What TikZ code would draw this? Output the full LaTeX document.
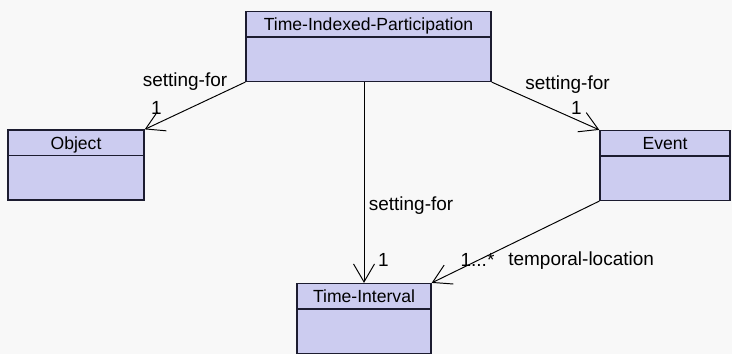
\documentclass[tikz,border=0pt]{standalone}
\usepackage{fontspec}
\setmainfont{Liberation Sans}
\usetikzlibrary{shapes.multipart,arrows.meta}
\definecolor{bgGray}{RGB}{248,248,248}
\definecolor{classFill}{RGB}{204,204,240}
\definecolor{classLine}{RGB}{28,28,48}
\newcommand{\clsName}[1]{\rule[-1.1mm]{0pt}{4.8mm}#1}
\newcommand{\clsBody}{\rule{0pt}{8.6mm}}
\tikzset{
  umlClass/.style={rectangle split,rectangle split parts=2,draw=classLine,
        fill=classFill,line width=.8pt,inner xsep=0pt,inner ysep=0pt,
        font=\fontsize{10}{12}\selectfont},
  umlAssoc/.style={line width=.55pt,-{Straight Barb[length=3.6mm,width=4.2mm]}},
  umlLabel/.style={font=\fontsize{10.8}{13}\selectfont,inner sep=0pt},
}

\begin{document}
\begin{tikzpicture}[x=1cm,y=1cm]
\useasboundingbox[fill=bgGray] (0,0) rectangle (14.64,7.08);
% classes
\node[umlClass,minimum width=4.9cm] (tip) at (7.37,6.15)
  {\clsName{Time-Indexed-Participation}\nodepart{two}\clsBody};
\node[umlClass,minimum width=2.72cm] (obj) at (1.52,3.78)
  {\clsName{Object}\nodepart{two}\clsBody};
\node[umlClass,minimum width=2.60cm] (evt) at (13.30,3.77)
  {\clsName{Event}\nodepart{two}\clsBody};
\node[umlClass,minimum width=2.68cm] (ti) at (7.28,0.71)
  {\clsName{Time-Interval}\nodepart{two}\clsBody};
% role names and multiplicities
\node[umlLabel,anchor=base] (sfObj) at (3.70,5.35) {setting-for};
\node[umlLabel,anchor=base] (mObj) at (3.13,4.78) {1};
\node[umlLabel,anchor=base] (sfEvt) at (11.35,5.28) {setting-for};
\node[umlLabel,anchor=base] (mEvt) at (11.53,4.78) {1};
\node[umlLabel,anchor=base west] (sfTi) at (7.37,2.86) {setting-for};
\node[umlLabel,anchor=base] (mTi) at (7.67,1.74) {1};
\node[umlLabel,anchor=base] (mLoc) at (9.55,1.75) {1...*};
\node[umlLabel,anchor=base west] (tLoc) at (10.16,1.76) {temporal-location};
% associations
\draw[umlAssoc] (tip.south west) -- (obj.north east);
\draw[umlAssoc] (tip.south east) -- (evt.north west);
\draw[umlAssoc] (ti.north |- tip.south) -- (ti.north);
\draw[umlAssoc] (evt.south west) -- (ti.north east);
\end{tikzpicture}
\end{document}
